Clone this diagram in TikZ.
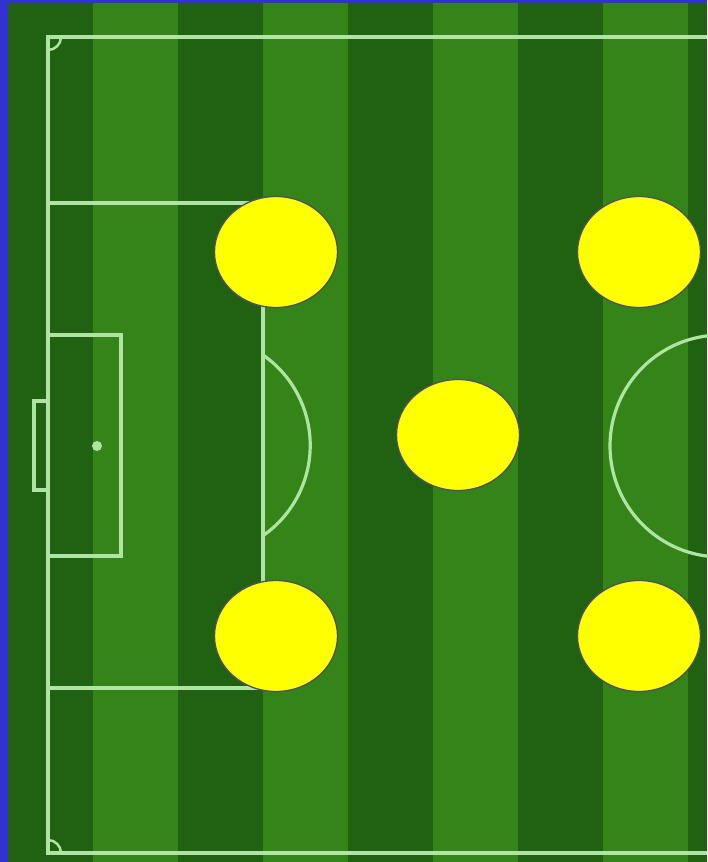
\documentclass[tikz,border=0pt]{standalone}
\begin{document}
\begin{tikzpicture}[x=1pt,y=-1pt,
  line width=0pt,
  fieldline/.style={draw=linegreen, line width=3.2pt},
  player/.style={ellipse, fill=playeryellow, draw=edgegray, line width=1.3pt, minimum width=123pt, minimum height=111pt, inner sep=0pt}]
\usetikzlibrary{shapes.geometric}
\definecolor{bordblue}{RGB}{50,50,210}
\definecolor{darkstripe}{RGB}{32,98,17}
\definecolor{lightstripe}{RGB}{52,132,24}
\definecolor{linegreen}{RGB}{175,228,165}
\definecolor{edgegray}{RGB}{75,80,110}
\definecolor{playeryellow}{RGB}{255,255,0}
\useasboundingbox (0,0) rectangle (707,862);
\fill[bordblue] (0,0) rectangle (707,862);
\fill[darkstripe] (8,3) rectangle (707,862);
\foreach \x in {93,263,433,603} {
  \fill[lightstripe] (\x,3) rectangle (\x+85,862);
}
% outer lines
\draw[fieldline] (707,37) -- (48,37) -- (48,853) -- (707,853);
% corner arcs
\draw[fieldline, line width=2.5pt] (61,37) arc[start angle=0, end angle=90, radius=13];
\draw[fieldline, line width=2.5pt] (48,840) arc[start angle=-90, end angle=0, radius=13];
% penalty box
\draw[fieldline] (48,203) -- (263,203) -- (263,688) -- (48,688);
% goal box
\draw[fieldline] (48,335) -- (121,335) -- (121,556) -- (48,556);
% goal
\draw[fieldline] (48,401) -- (34,401) -- (34,490) -- (48,490);
% penalty spot
\fill[linegreen] (97,446) circle[radius=5];
% penalty arc
\draw[fieldline] (263,355) arc[start angle=-55.2, end angle=55.2, radius=110] ;
% centre circle
\draw[fieldline] (721,446) circle[radius=111];
% players
\node[player] (p1) at (276,252) {};
\node[player] (p2) at (639,252) {};
\node[player] (p3) at (458,435) {};
\node[player] (p4) at (276,636) {};
\node[player] (p5) at (639,636) {};
\end{tikzpicture}
\end{document}
